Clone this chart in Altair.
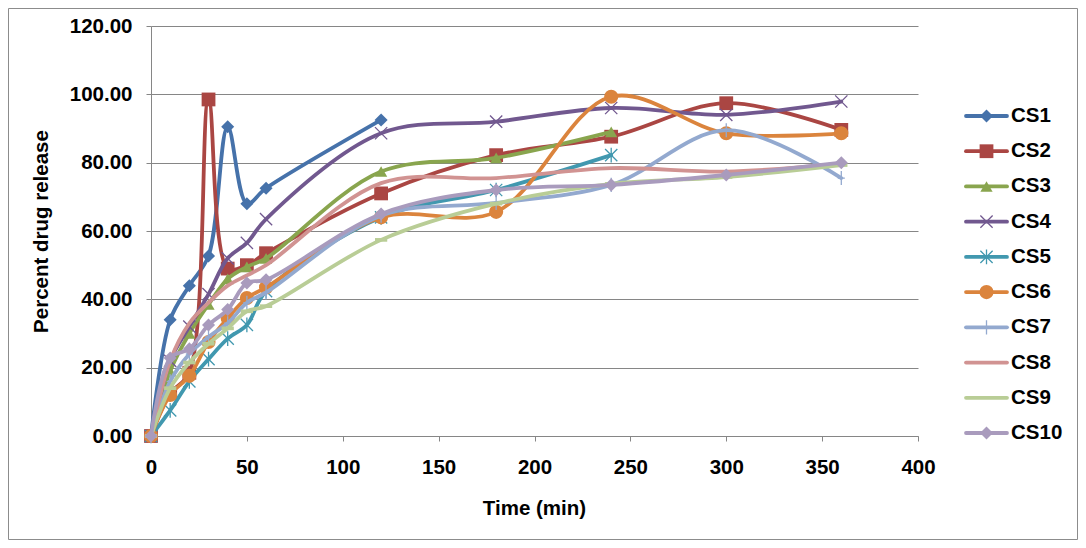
import altair as alt
import pandas as pd

time = [0, 10, 20, 30, 40, 50, 60, 120, 180, 240, 300, 360]
series_names = ["CS1", "CS2", "CS3", "CS4", "CS5", "CS6", "CS7", "CS8", "CS9", "CS10"]

cs1 = [0, 34, 44, 52.7, 90.5, 68, 72.5, 92.5]
cs2 = [0, 12.5, 18.5, 98.5, 49, 50, 53.5, 71, 82.2, 87.6, 97.4, 89.6]
cs3 = [0, 19, 30, 38.5, 46, 49.5, 52, 77.4, 81.4, 89]
cs4 = [0, 22, 32, 41.5, 52, 56.5, 63.5, 88.6, 92, 96, 94, 97.9]
cs5 = [0, 7.5, 16, 22.5, 28.5, 32.5, 42.4, 64, 72, 82.2]
cs6 = [0, 12, 17.6, 27.5, 34.5, 40.4, 43.5, 64, 65.6, 99.3, 88.6, 88.6]
cs7 = [0, 16, 24, 29, 33, 39, 42, 64.5, 68.2, 73.5, 89.5, 75.5]
cs8 = [0, 22, 33, 39, 44, 47, 50, 74, 75.5, 78.4, 77.4, 79.7]
cs9 = [0, 14, 21.5, 27, 31.5, 36.5, 38, 57.4, 68, 73.8, 75.8, 79.3]
cs10 = [0, 22.8, 25.5, 32.5, 37, 44.8, 45.7, 65, 72, 73.5, 76.4, 80]
values = [cs1, cs2, cs3, cs4, cs5, cs6, cs7, cs8, cs9, cs10]

colors = ["#4672AA", "#AA4643", "#89A54E", "#71588F", "#4198AF",
          "#DB843D", "#93A9CF", "#D19392", "#B9CD96", "#A99BBD"]

X_PATH = "M-1,-1L1,1M-1,1L1,-1"
AST_PATH = "M-1,-1L1,1M-1,1L1,-1M0,-1.2L0,1.2"
PLUS_PATH = "M0,-1L0,1M-0.5,0L0.5,0"
DASH_PATH = "M-1,-0.3L1,-0.3L1,0.3L-1,0.3Z"
markers = [
    dict(shape="diamond", filled=True, size=170),
    dict(shape="square", filled=True, size=190),
    dict(shape="triangle-up", filled=True, size=150),
    dict(shape=X_PATH, filled=False, size=150),
    dict(shape=AST_PATH, filled=False, size=150),
    dict(shape="circle", filled=True, size=200),
    dict(shape=PLUS_PATH, filled=False, size=200),
    None,
    dict(shape=DASH_PATH, filled=True, size=150),
    dict(shape="diamond", filled=True, size=170),
]

rows = []
for name, vals in zip(series_names, values):
    for t, v in zip(time, vals):
        rows.append({"series": name, "time": t, "value": v})
df = pd.DataFrame(rows)
legend_df = pd.DataFrame({"series": series_names})

FONT = "Liberation Sans"
GRAY = "#868686"
FS = 20.5

x_enc = alt.X("time:Q", scale=alt.Scale(domain=[0, 400], nice=False),
              axis=alt.Axis(values=list(range(0, 401, 50)), grid=False, title="Time (min)",
                            labelFont=FONT, labelFontSize=FS, labelFontWeight="bold", labelColor="black",
                            labelPadding=16, labelFlush=False, tickSize=5, tickColor=GRAY, domainColor=GRAY,
                            titleFont=FONT, titleFontSize=FS, titleFontWeight="bold", titleColor="black",
                            titleX=383, titleY=72, titleBaseline="middle", titleAlign="center"))
y_scale = alt.Scale(domain=[0, 120], nice=False)
y_axis = alt.Axis(values=list(range(0, 121, 20)), format=".2f", grid=True, gridColor=GRAY,
                  title="Percent drug release",
                  labelFont=FONT, labelFontSize=FS, labelFontWeight="bold", labelColor="black",
                  labelPadding=14, tickSize=5, tickColor=GRAY, domainColor=GRAY,
                  titleFont=FONT, titleFontSize=FS, titleFontWeight="bold", titleColor="black",
                  titleX=-110, titleY=205, titleAngle=-90, titleBaseline="middle", titleAlign="center")

leg_y = alt.Y("series:N", scale=alt.Scale(type="point", domain=series_names, range=[90, 407], padding=0),
              axis=None)

layers = []
frame = alt.Chart(pd.DataFrame({"a": [0]})).mark_rect(fillOpacity=0, stroke="#8C8C8C", strokeWidth=1).encode(
    x=alt.value(-142.5), x2=alt.value(926.5), y=alt.value(-17.5), y2=alt.value(513.5))
layers.append(frame)

for i, name in enumerate(series_names):
    d = df[df["series"] == name]
    col = colors[i]
    y_enc = alt.Y("value:Q", scale=y_scale, axis=y_axis if i == 0 else None)
    line = alt.Chart(d).mark_line(interpolate="catmull-rom", strokeWidth=3.8, color=col,
                                  strokeJoin="round", strokeCap="round").encode(
        x=x_enc, y=y_enc, order="time:Q")
    layers.append(line)
    m = markers[i]
    if m is not None:
        if m["filled"]:
            pm = alt.Chart(d).mark_point(shape=m["shape"], filled=True, fill=col, opacity=1,
                                         strokeWidth=0, size=m["size"])
        else:
            pm = alt.Chart(d).mark_point(shape=m["shape"], filled=False, stroke=col, opacity=1,
                                         strokeWidth=1.3, size=m["size"])
        layers.append(pm.encode(x=x_enc, y=alt.Y("value:Q", scale=y_scale, axis=None)))

    ld = legend_df[legend_df["series"] == name]
    rule = alt.Chart(ld).mark_rule(color=col, strokeWidth=3.8, strokeCap="round").encode(
        x=alt.value(815), x2=alt.value(856), y=leg_y)
    layers.append(rule)
    if m is not None:
        if m["filled"]:
            lp = alt.Chart(ld).mark_point(shape=m["shape"], filled=True, fill=col, opacity=1,
                                          strokeWidth=0, size=m["size"])
        else:
            lp = alt.Chart(ld).mark_point(shape=m["shape"], filled=False, stroke=col, opacity=1,
                                          strokeWidth=1.3, size=m["size"])
        if i != 8:
            layers.append(lp.encode(x=alt.value(835.5), y=leg_y))

text = alt.Chart(legend_df).mark_text(align="left", baseline="middle", font=FONT, fontSize=FS,
                                      fontWeight="bold", color="black").encode(
    x=alt.value(860), y=leg_y, text="series:N")
layers.append(text)

chart = alt.layer(*layers).resolve_scale(y="independent").properties(
    width=767, height=410,
    padding={"left": 143, "top": 18, "right": 160, "bottom": 104},
    autosize=alt.AutoSizeParams(type="none"),
    background="white",
).configure_view(stroke=None)

chart.save("out.html", embed_options={"renderer": "svg", "actions": False})
